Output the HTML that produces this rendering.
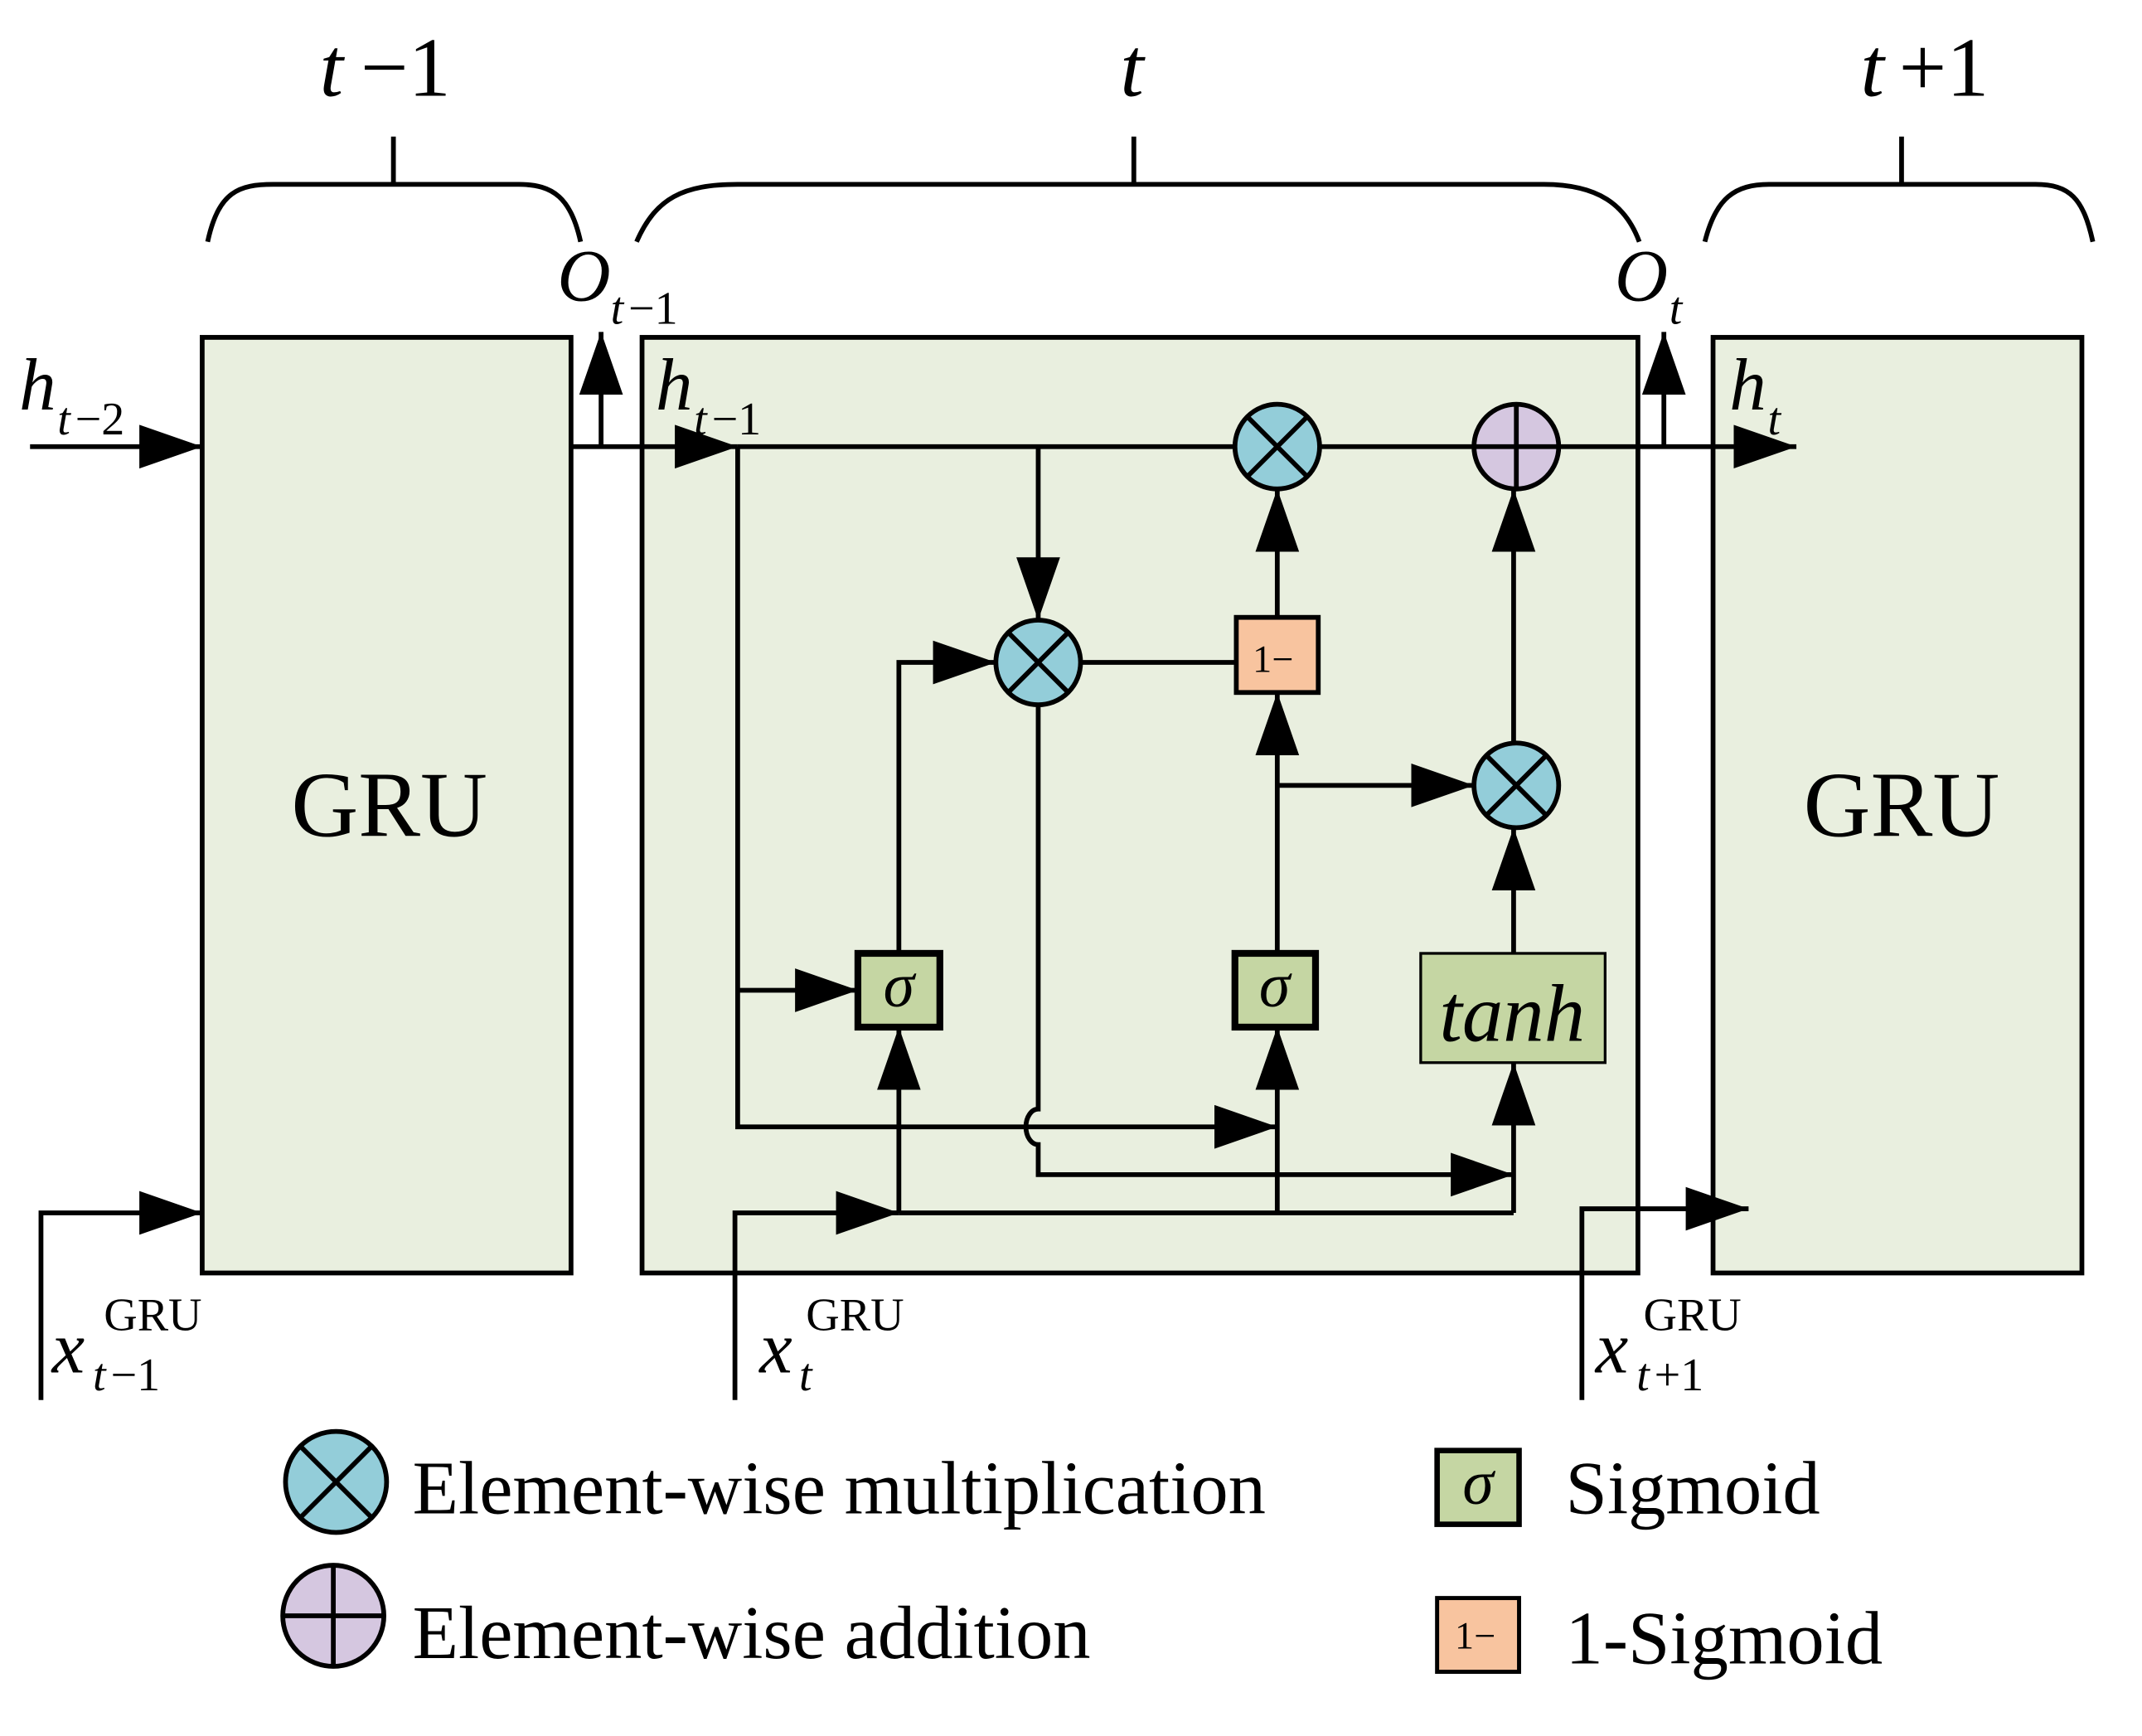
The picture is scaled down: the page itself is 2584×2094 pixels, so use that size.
<!DOCTYPE html>
<html><head><meta charset="utf-8"><style>
html,body{margin:0;padding:0;background:#fff}
svg{display:block}
text{font-family:"Liberation Serif",serif;fill:#000}
.i{font-style:italic}
</style></head><body>
<svg width="2584" height="2094" viewBox="0 0 1568 1271" preserveAspectRatio="none" xmlns="http://www.w3.org/2000/svg">
<defs>
<marker id="a" markerUnits="userSpaceOnUse" markerWidth="50" markerHeight="40" refX="46" refY="16" orient="auto">
<path d="M0,0 L46,16 L0,32 Z" fill="#000"/></marker>
</defs>
<g stroke="#000" stroke-width="3.5" fill="none">
<rect x="148" y="247" width="270" height="685" fill="#e9efdf"/>
<rect x="470" y="247" width="729" height="685" fill="#e9efdf"/>
<rect x="1254" y="247" width="270" height="685" fill="#e9efdf"/>
<path d="M152,177 C160,140 175,135 200,135 L380,135 C405,135 418,145 425,177"/>
<line x1="288" y1="100" x2="288" y2="135"/>
<path d="M466,177 C480,145 500,135 540,135 L1130,135 C1170,135 1190,150 1200,177"/>
<line x1="830" y1="100" x2="830" y2="135"/>
<path d="M1248,177 C1256,145 1270,135 1295,135 L1490,135 C1515,135 1525,145 1532,177"/>
<line x1="1392" y1="100" x2="1392" y2="135"/>
<line x1="22" y1="327" x2="148" y2="327" marker-end="url(#a)"/>
<line x1="418" y1="327" x2="540" y2="327" marker-end="url(#a)"/>
<line x1="540" y1="327" x2="904" y2="327"/>
<line x1="966" y1="327" x2="1079" y2="327"/>
<line x1="1141" y1="327" x2="1315" y2="327" marker-end="url(#a)"/>
<line x1="440" y1="327" x2="440" y2="243" marker-end="url(#a)"/>
<line x1="1218" y1="327" x2="1218" y2="243" marker-end="url(#a)"/>
<path d="M540,327 L540,825 L935,825" marker-end="url(#a)"/>
<line x1="540" y1="725" x2="628" y2="725" marker-end="url(#a)"/>
<line x1="760" y1="327" x2="760" y2="454" marker-end="url(#a)"/>
<path d="M760,516 L760,812 A9,13 0 0 0 760,838 L760,860 L1108,860" marker-end="url(#a)"/>
<path d="M658,698 L658,485 L729,485" marker-end="url(#a)"/>
<line x1="791" y1="485" x2="905" y2="485"/>
<line x1="935" y1="452" x2="935" y2="358" marker-end="url(#a)"/>
<line x1="935" y1="698" x2="935" y2="507" marker-end="url(#a)"/>
<line x1="935" y1="575" x2="1079" y2="575" marker-end="url(#a)"/>
<line x1="1108" y1="698" x2="1108" y2="606" marker-end="url(#a)"/>
<line x1="1108" y1="544" x2="1108" y2="358" marker-end="url(#a)"/>
<path d="M30,1025 L30,888 L148,888" marker-end="url(#a)"/>
<path d="M538,1025 L538,888 L658,888" marker-end="url(#a)"/>
<line x1="658" y1="888" x2="1108" y2="888"/>
<line x1="658" y1="888" x2="658" y2="752" marker-end="url(#a)"/>
<line x1="935" y1="888" x2="935" y2="752" marker-end="url(#a)"/>
<line x1="1108" y1="888" x2="1108" y2="778" marker-end="url(#a)"/>
<path d="M1158,1025 L1158,885 L1280,885" marker-end="url(#a)"/>
<rect x="905" y="452" width="60" height="55" fill="#f8c49f"/>
<rect x="628" y="698" width="60" height="54" fill="#c5d6a3" stroke-width="5"/>
<rect x="904" y="698" width="59" height="54" fill="#c5d6a3" stroke-width="5"/>
<rect x="1040" y="698" width="135" height="80" fill="#c5d6a3" stroke-width="2"/>
<g fill="#93cdd9">
<circle cx="935" cy="327" r="31"/><circle cx="760" cy="485" r="31"/><circle cx="1110" cy="575" r="31"/>
<circle cx="246" cy="1085" r="37"/>
</g>
<circle cx="1110" cy="327" r="31" fill="#d5c7e0"/>
<circle cx="244" cy="1183" r="37" fill="#d5c7e0"/>
<g>
<path d="M913,305 L957,349 M957,305 L913,349"/>
<path d="M738,463 L782,507 M782,463 L738,507"/>
<path d="M1088,553 L1132,597 M1132,553 L1088,597"/>
<path d="M220,1059 L272,1111 M272,1059 L220,1111"/>
<path d="M1110,296 L1110,358 M1079,327 L1141,327"/>
<path d="M244,1146 L244,1220 M207,1183 L281,1183"/>
</g>
<rect x="1052" y="1062" width="60" height="54" fill="#c5d6a3" stroke-width="4"/>
<rect x="1052" y="1170" width="60" height="54" fill="#f8c49f" stroke-width="3"/>
</g>
<text x="285" y="612" font-size="68" text-anchor="middle">GRU</text>
<text x="1392" y="612" font-size="68" text-anchor="middle">GRU</text>
<text x="234" y="70" font-size="62" class="i">t</text><text x="264" y="70" font-size="62">−1</text>
<text x="820" y="70" font-size="62" class="i">t</text>
<text x="1362" y="70" font-size="62" class="i">t</text><text x="1390" y="70" font-size="62">+1</text>
<text x="408" y="220" font-size="54" class="i">O</text><text x="447" y="237" font-size="34" class="i">t</text><text x="460" y="237" font-size="34">−1</text>
<text x="1182" y="220" font-size="54" class="i">O</text><text x="1222" y="237" font-size="34" class="i">t</text>
<text x="14" y="300" font-size="54" class="i">h</text><text x="42" y="318" font-size="34" class="i">t</text><text x="55" y="318" font-size="34">−2</text>
<text x="480" y="300" font-size="54" class="i">h</text><text x="508" y="318" font-size="34" class="i">t</text><text x="521" y="318" font-size="34">−1</text>
<text x="1266" y="300" font-size="54" class="i">h</text><text x="1294" y="318" font-size="34" class="i">t</text>
<text x="38" y="1005" font-size="54" class="i">x</text><text x="76" y="974" font-size="34">GRU</text><text x="68" y="1018" font-size="34" class="i">t</text><text x="81" y="1018" font-size="34">−1</text>
<text x="556" y="1005" font-size="54" class="i">x</text><text x="590" y="974" font-size="34">GRU</text><text x="585" y="1018" font-size="34" class="i">t</text>
<text x="1168" y="1005" font-size="54" class="i">x</text><text x="1203" y="974" font-size="34">GRU</text><text x="1198" y="1018" font-size="34" class="i">t</text><text x="1211" y="1018" font-size="34">+1</text>
<text x="917" y="492" font-size="28">1−</text>
<text x="658" y="737" font-size="46" class="i" text-anchor="middle">σ</text>
<text x="933" y="737" font-size="46" class="i" text-anchor="middle">σ</text>
<text x="1107" y="762" font-size="60" class="i" text-anchor="middle">tanh</text>
<text x="1082" y="1101" font-size="46" class="i" text-anchor="middle">σ</text>
<text x="1065" y="1207" font-size="28">1−</text>
<text x="302" y="1108" font-size="55">Element-wise multiplication</text>
<text x="302" y="1214" font-size="55">Element-wise addition</text>
<text x="1146" y="1108" font-size="55">Sigmoid</text>
<text x="1146" y="1218" font-size="55">1-Sigmoid</text>
</svg>
</body></html>
